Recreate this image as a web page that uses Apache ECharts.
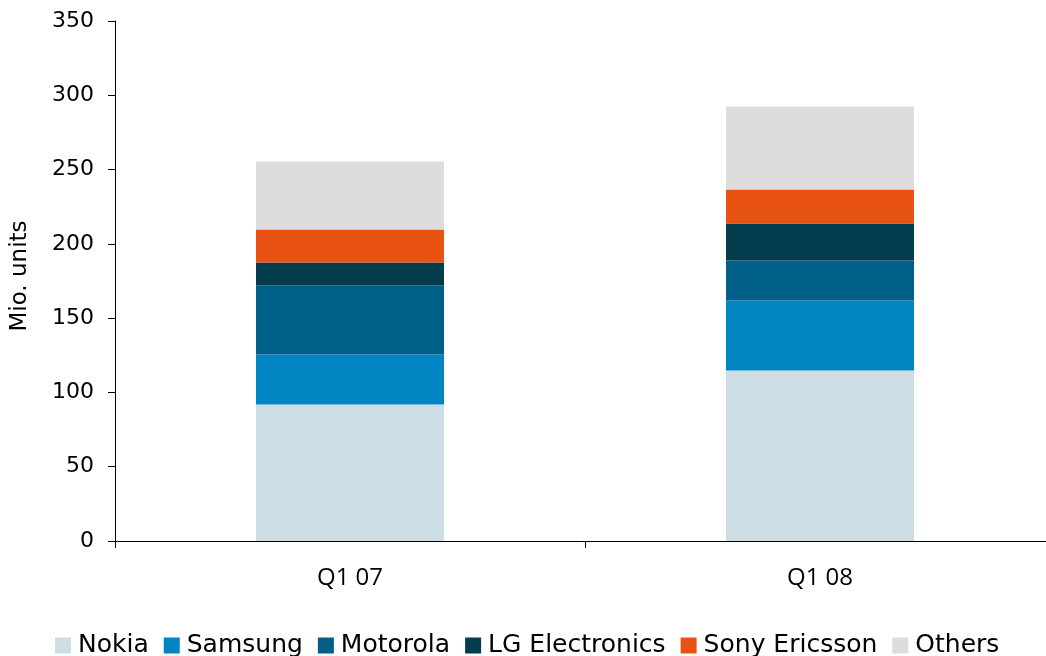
<!DOCTYPE html>
<html>
<head>
<meta charset="utf-8">
<script src="https://cdn.jsdelivr.net/npm/echarts@6/dist/echarts.min.js"></script>
<style>
  html, body { margin: 0; padding: 0; background: #fff; }
  #chart { width: 1046px; height: 656px; }
</style>
</head>
<body>
<div id="chart"></div>
<script>
var quarters = ['Q1 07', 'Q1 08'];
var nokia = [91.9, 114.8];
var samsung = [33.6, 47.1];
var motorola = [46.5, 26.9];
var lg = [15.5, 24.9];
var sonyEricsson = [22.2, 22.9];
var others = [45.7, 55.9];

var seriesNames = ['Nokia', 'Samsung', 'Motorola', 'LG Electronics', 'Sony Ericsson', 'Others'];
var seriesData = [nokia, samsung, motorola, lg, sonyEricsson, others];
var colors = ['#ccdde6', '#0085c3', '#005f87', '#023c4d', '#e85213', '#dddddd'];

var myChart = echarts.init(document.getElementById('chart'));

var series = [];
for (var i in seriesNames) {
    series.push({
        name: seriesNames[i],
        type: 'bar',
        stack: 'total',
        barWidth: 188,
        itemStyle: { color: colors[i] },
        data: seriesData[i]
    });
}

var option = {
    animation: false,
    textStyle: { fontFamily: 'DejaVu Sans' },
    grid: { left: 115, top: 21, width: 940, height: 520, outerBoundsMode: 'none' },
    legend: {
        top: 628,
        left: 50,
        itemWidth: 16,
        itemHeight: 16,
        itemGap: 15,
        icon: 'rect',
        textStyle: { fontSize: 25, color: '#000', padding: [0, 0, 0, 2] },
        data: seriesNames
    },
    xAxis: {
        type: 'category',
        data: quarters,
        axisLine: { lineStyle: { color: '#000', width: 1 } },
        axisTick: { show: true, length: 7, lineStyle: { color: '#000' } },
        axisLabel: { color: '#000', fontSize: 24, margin: 25, fontFamily: 'Open Sans' }
    },
    yAxis: {
        type: 'value',
        min: 0,
        max: 350,
        interval: 50,
        name: 'Mio. units',
        nameLocation: 'middle',
        nameGap: 83,
        nameTextStyle: { color: '#000', fontSize: 23, padding: [0, 0, 0, 10] },
        axisLine: { show: true, lineStyle: { color: '#000', width: 1 } },
        axisTick: { show: true, length: 7, lineStyle: { color: '#000' } },
        axisLabel: { color: '#000', fontSize: 22, margin: 21 },
        splitLine: { show: false }
    },
    series: series
};

myChart.setOption(option);
</script>
</body>
</html>
